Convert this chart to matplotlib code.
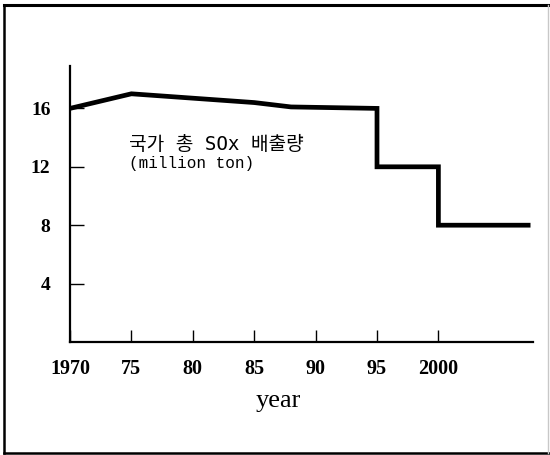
import matplotlib
matplotlib.use("Agg")
import matplotlib.pyplot as plt
from matplotlib.lines import Line2D

# data
years = [1970, 1975, 1980, 1985, 1988, 1995, 1995, 2000, 2000, 2007.5]
sox = [16.0, 17.0, 16.7, 16.4, 16.1, 16.0, 12.0, 12.0, 8.0, 8.0]
xticks = [1970, 1975, 1980, 1985, 1990, 1995, 2000]
xtick_labels = ["1970", "75", "80", "85", "90", "95", "2000"]
yticks = [4, 8, 12, 16]
ytick_labels = ["4", "8", "12", "16"]

W, H = 550, 455
fig = plt.figure(figsize=(W / 100, H / 100), dpi=100)

# outer frame of the scan
fig.add_artist(Line2D([4 / W, 4 / W], [1 - 5 / H, 1 - 453 / H], color="black", lw=1.8))
fig.add_artist(Line2D([4 / W, 549 / W], [1 - 5 / H, 1 - 5 / H], color="black", lw=2.2))
fig.add_artist(Line2D([4 / W, 549 / W], [1 - 453 / H, 1 - 453 / H], color="black", lw=1.8))
fig.add_artist(Line2D([548 / W, 548 / W], [1 - 5 / H, 1 - 453 / H], color="#c8c8c8", lw=1.0))

ax = fig.add_axes([70 / W, 1 - 342 / H, 463 / W, 276 / H])
ax.set_xlim(1970, 1970 + 463 / 12.28)
ax.set_ylim(0, 276 / 14.6)

ax.plot(years, sox, color="black", lw=3.4, solid_joinstyle="miter", solid_capstyle="butt")

for s in ["top", "right"]:
    ax.spines[s].set_visible(False)
ax.spines["left"].set_linewidth(1.6)
ax.spines["bottom"].set_linewidth(1.6)

ax.set_xticks(xticks)
ax.set_xticklabels(xtick_labels, fontfamily="Liberation Serif", fontweight="bold", fontsize=14.5)
ax.set_yticks(yticks)
ax.set_yticklabels(ytick_labels, fontfamily="Liberation Serif", fontweight="bold", fontsize=14)
ax.tick_params(axis="x", direction="in", length=9, width=1.0, pad=12)
ax.tick_params(axis="y", direction="in", length=10, width=1.0, pad=14)

ax.set_xlabel("year", fontfamily="Liberation Serif", fontsize=19, labelpad=9)
ax.xaxis.set_label_coords((278 - 70) / 463, -0.175)

ax.text(1974.8, 13.5, "국가 총 SOx 배출량",
        family=["DejaVu Sans Mono", "Noto Sans CJK KR"], fontsize=13.8,
        fontweight="medium", ha="left", va="center")
ax.text(1974.8, 12.25, "(million ton)",
        family=["Liberation Mono", "Noto Sans CJK KR"], fontsize=11.5,
        ha="left", va="center")

fig.savefig("out.png", dpi=100)
